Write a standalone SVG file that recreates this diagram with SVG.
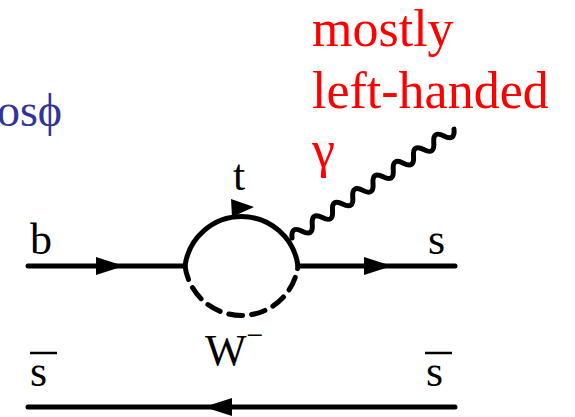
<svg xmlns="http://www.w3.org/2000/svg" width="575" height="417" viewBox="0 0 575 417">
<style>
.ln{fill:none;stroke:#000;stroke-width:5;stroke-linecap:round}
.lbl{font-family:"Liberation Serif","Times New Roman",serif;font-size:44px;fill:#000}
.red{font-family:"Liberation Serif","Times New Roman",serif;font-size:52px;fill:#ff0000}
.blue{font-family:"Liberation Serif","Times New Roman",serif;font-size:46px;fill:#333399}
.arr{fill:#000}
</style>
<rect width="575" height="417" fill="#fff"/>
<g id="connectors">
<path class="ln" d="M28,266 H185"/>
<polygon class="arr" points="96,257 124,266 96,275"/>
<path class="ln" d="M185,266 A57,57 0 0 1 298,266"/>
<polygon class="arr" points="231,199 254,207 232,217"/>
<path class="ln" d="M185,266 A57,57 0 0 0 298,266" stroke-dasharray="14,9"/>
<path class="ln" d="M298,266 H455"/>
<polygon class="arr" points="364,257 392,266 364,275"/>
<path class="ln" d="M28,407 H455"/>
<polygon class="arr" points="232,398 204,407 232,416"/>
<path class="ln" transform="translate(292,238) rotate(-33.9)" d="M0,0 q6.1,-11 12.2,0 t12.2,0 t12.2,0 t12.2,0 t12.2,0 t12.2,0 t12.2,0 t12.2,0 t12.2,0 t12.2,0 t12.2,0 t12.2,0 t12.2,0 t12.2,0 t12.2,0 t12.2,0"/>
</g>
<g id="node-b"><text class="lbl" x="30" y="254">b</text></g>
<g id="node-s"><text class="lbl" x="428" y="254">s</text></g>
<g id="node-t"><text class="lbl" x="233" y="190">t</text></g>
<g id="node-gamma"><text class="red" x="312" y="167" font-size="44">γ</text></g>
<g id="node-W"><text class="lbl" x="205" y="365">W<tspan font-size="30" dy="-20">−</tspan></text></g>
<g id="node-sbar-left"><text class="lbl" x="30" y="386">s</text><line x1="30" y1="353" x2="57" y2="353" stroke="#000" stroke-width="2.5"/></g>
<g id="node-sbar-right"><text class="lbl" x="426" y="386">s</text><line x1="425" y1="353" x2="452" y2="353" stroke="#000" stroke-width="2.5"/></g>
<g id="node-label"><text class="red" x="312" y="46">mostly</text><text class="red" x="312" y="108">left-handed</text></g>
<g id="node-cos"><text class="blue" x="62" y="126" text-anchor="end">cosϕ</text></g>
</svg>
